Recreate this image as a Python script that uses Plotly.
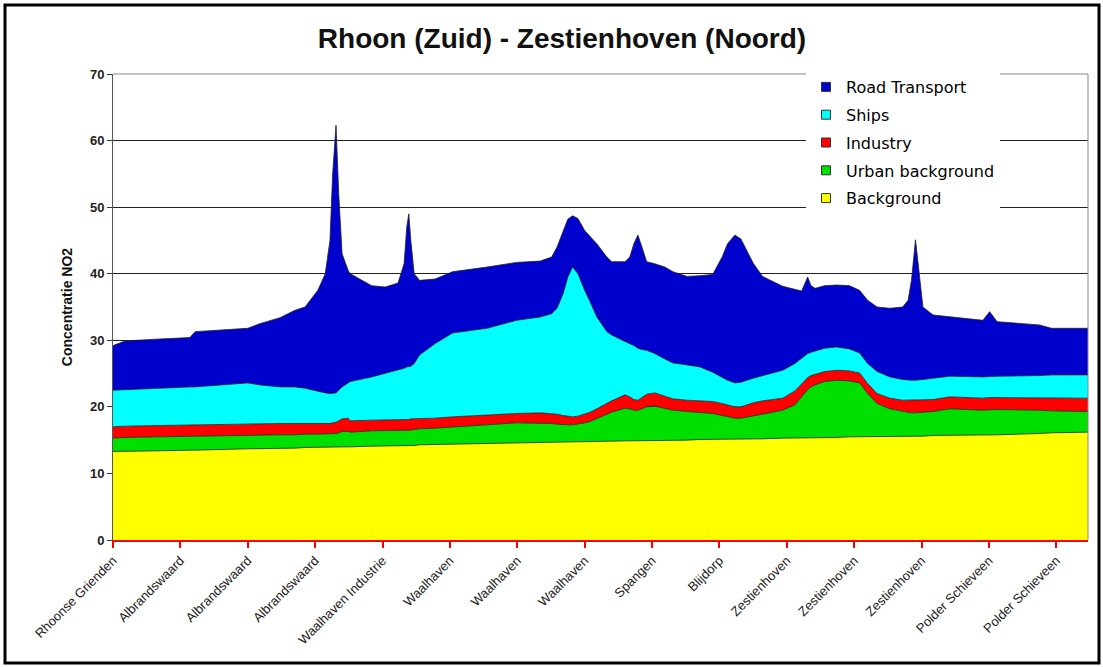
import plotly.graph_objects as go

# Position along the transect (category index; 146 locations, labelled every 10th)
position = [0, 1.8, 7.0, 11.4, 12.2, 20.0, 21.8, 24.8, 27.0, 28.5, 30.4, 31.5, 32.2, 32.6, 33.1, 33.5,
            34.0, 34.9, 35.2, 38.4, 40.4, 42.3, 43.2, 43.6, 43.9, 44.2, 44.7, 45.5, 47.8, 50.4, 55.5,
            59.9, 63.4, 65.1, 65.9, 66.8, 67.5, 68.2, 69.0, 70.0, 70.8, 71.8, 73.3, 74.0, 76.0, 76.7,
            77.3, 77.9, 78.5, 79.2, 80.4, 81.9, 83.1, 85.2, 87.1, 89.0, 90.4, 91.2, 92.3, 93.2, 95.0,
            96.4, 99.4, 101.2, 102.2, 102.8, 103.1, 103.6, 104.2, 105.6, 107.4, 109.3, 110.8, 112.0,
            113.4, 115.3, 117.2, 118.0, 118.5, 119.1, 119.7, 120.2, 121.7, 124.2, 129.1, 130.1, 131.2,
            137.5, 139.3, 144.7]

background = [13.3, 13.3, 13.4, 13.5, 13.5, 13.7, 13.7, 13.8, 13.8, 13.9, 13.9, 13.9, 14.0, 14.0, 14.0, 14.0,
              14.0, 14.0, 14.0, 14.1, 14.1, 14.2, 14.2, 14.2, 14.2, 14.2, 14.2, 14.3, 14.3, 14.4, 14.5,
              14.6, 14.7, 14.7, 14.7, 14.7, 14.8, 14.8, 14.8, 14.8, 14.8, 14.8, 14.9, 14.9, 14.9, 14.9,
              14.9, 14.9, 15.0, 15.0, 15.0, 15.0, 15.0, 15.0, 15.1, 15.1, 15.1, 15.1, 15.1, 15.2, 15.2,
              15.2, 15.3, 15.3, 15.3, 15.3, 15.3, 15.3, 15.4, 15.4, 15.4, 15.5, 15.5, 15.5,
              15.5, 15.6, 15.6, 15.6, 15.6, 15.6, 15.6, 15.6, 15.7, 15.7, 15.8, 15.8, 15.8,
              16.0, 16.1, 16.2]

urban = [2.0, 2.1, 2.1, 2.1, 2.1, 2.1, 2.1, 2.0, 2.0, 2.0, 2.0, 2.0, 2.0, 2.0, 2.0, 2.1,
         2.3, 2.3, 2.2, 2.3, 2.3, 2.3, 2.3, 2.3, 2.3, 2.3, 2.4, 2.4, 2.5, 2.6, 2.8,
         3.0, 2.9, 2.8, 2.7, 2.6, 2.5, 2.5, 2.6, 2.8, 3.0, 3.4, 3.9, 4.3, 4.9, 4.8,
         4.6, 4.6, 4.7, 5.0, 5.1, 4.8, 4.5, 4.3, 4.1, 3.9, 3.6, 3.4, 3.2, 3.1, 3.4,
         3.7, 4.2, 5.0, 6.2, 6.9, 7.3, 7.7, 7.9, 8.4, 8.6, 8.4, 8.1, 6.5,
         5.0, 4.1, 3.7, 3.6, 3.5, 3.5, 3.5, 3.6, 3.6, 4.0, 3.7, 3.8, 3.8,
         3.5, 3.3, 3.1]

industry = [1.7, 1.7, 1.7, 1.7, 1.7, 1.7, 1.7, 1.7, 1.7, 1.6, 1.5, 1.5, 1.5, 1.6, 1.7, 1.8,
            1.9, 2.0, 1.7, 1.6, 1.6, 1.6, 1.6, 1.6, 1.6, 1.7, 1.6, 1.6, 1.5, 1.5, 1.5,
            1.4, 1.5, 1.5, 1.5, 1.4, 1.3, 1.2, 1.2, 1.3, 1.4, 1.5, 1.7, 1.7, 2.0, 1.8,
            1.6, 1.5, 1.7, 1.9, 2.0, 1.8, 1.7, 1.7, 1.7, 1.8, 1.8, 1.8, 1.7, 1.7, 2.0,
            2.0, 1.8, 2.1, 2.0, 1.8, 1.8, 1.7, 1.6, 1.5, 1.5, 1.5, 1.5, 1.5,
            1.5, 1.6, 1.7, 1.8, 1.9, 1.9, 1.9, 1.8, 1.8, 1.8, 1.8, 1.8, 1.8,
            1.9, 1.9, 2.0]

ships = [5.5, 5.5, 5.6, 5.7, 5.7, 6.1, 5.8, 5.5, 5.5, 5.3, 4.9, 4.7, 4.5, 4.4, 4.4, 4.6,
         4.8, 5.3, 5.9, 6.5, 7.0, 7.4, 7.7, 7.9, 7.9, 7.9, 8.3, 9.5, 11.2, 12.6, 13.0,
         14.0, 14.4, 15.0, 15.9, 18.3, 20.9, 22.5, 21.4, 18.6, 16.6, 13.8, 10.8, 9.9, 8.0, 8.0,
         8.1, 7.8, 7.2, 6.6, 5.9, 5.6, 5.4, 5.3, 5.1, 4.4, 4.0, 3.7, 3.6, 3.7, 3.7,
         3.8, 4.2, 4.1, 3.8, 3.8, 3.6, 3.5, 3.5, 3.5, 3.5, 3.3, 3.0, 3.0,
         3.3, 3.2, 3.1, 3.0, 3.0, 3.0, 3.1, 3.1, 3.2, 3.1, 3.2, 3.2, 3.2,
         3.3, 3.5, 3.5]

road = [6.7, 7.3, 7.4, 7.4, 8.3, 8.2, 9.2, 10.4, 11.5, 12.2, 15.2, 17.9, 23.0, 33.0, 40.2, 29.5,
        20.0, 16.9, 16.2, 13.7, 13.0, 13.1, 15.7, 21.0, 23.0, 18.9, 13.5, 11.2, 9.7, 9.2, 9.2,
        8.7, 8.4, 8.5, 9.2, 9.5, 8.7, 7.7, 8.3, 9.0, 9.8, 11.0, 11.2, 11.0, 12.0, 13.0,
        15.3, 17.0, 15.4, 13.3, 13.5, 13.8, 13.7, 13.3, 13.7, 14.7, 18.0, 20.5, 22.2, 21.5, 17.3,
        14.9, 12.6, 11.1, 10.1, 11.0, 11.5, 10.0, 9.4, 9.4, 9.3, 9.5, 9.4, 9.5,
        9.7, 10.3, 10.9, 12.0, 15.0, 21.1, 14.9, 10.9, 9.5, 8.9, 8.5, 9.7, 8.2,
        7.6, 7.0, 7.0]

tick_positions = [0, 10, 20, 30, 40, 50, 60, 70, 80, 90, 100, 110, 120, 130, 140]
tick_labels = ["Rhoonse Grienden", "Albrandswaard", "Albrandswaard", "Albrandswaard",
               "Waalhaven Industrie", "Waalhaven", "Waalhaven", "Waalhaven", "Spangen",
               "Blijdorp", "Zestienhoven", "Zestienhoven", "Zestienhoven",
               "Polder Schieveen", "Polder Schieveen"]

series = [("Background", background, "#FFFF00"),
          ("Urban background", urban, "#00E000"),
          ("Industry", industry, "#FF0000"),
          ("Ships", ships, "#00FFFF"),
          ("Road Transport", road, "#0000CC")]

fig = go.Figure()
for name, vals, col in series:
    fig.add_trace(go.Scatter(
        x=position, y=vals, name=name, mode="lines", stackgroup="one",
        line=dict(width=0.8, color="#222222"), fillcolor=col,
        showlegend=False, hoverinfo="x+y+name",
    ))
# legend entries with square swatches (top of stack listed first)
for name, vals, col in reversed(series):
    fig.add_trace(go.Scatter(
        x=[None], y=[None], name=name, mode="markers", legendgroup=name,
        marker=dict(symbol="square", size=9, color=col, line=dict(color="#333333", width=1)),
        showlegend=True,
    ))

L, R, T, B = 113, 15, 74, 127
W, H = 1103, 667
pw, ph = W - L - R, H - T - B


def px_x(p):
    return (p - L) / pw


def px_y(p):
    return (H - B - p) / ph


fig.update_layout(
    width=W, height=H,
    margin=dict(l=L, r=R, t=T, b=B),
    paper_bgcolor="white", plot_bgcolor="white",
    font=dict(family="Liberation Sans, Arial, sans-serif", color="#222222"),
    title=dict(text="<b>Rhoon (Zuid) - Zestienhoven (Noord)</b>",
               x=562 / W, xref="container", xanchor="center",
               y=1 - 38 / H, yref="container", yanchor="middle",
               font=dict(size=28, color="#111111")),
    showlegend=True,
    legend=dict(
        x=px_x(806), y=px_y(70), xanchor="left", yanchor="top",
        bgcolor="white", borderwidth=0,
        traceorder="grouped", tracegroupgap=4,
        font=dict(family="DejaVu Sans, sans-serif", size=16, color="#000000"),
    ),
    xaxis=dict(
        range=[0, 144.7], tickmode="array", tickvals=tick_positions, ticktext=tick_labels,
        tickangle=-45, tickfont=dict(size=13, color="#222222"),
        showline=True, linecolor="#FF0000", linewidth=2,
        ticks="outside", ticklen=6, tickwidth=2, tickcolor="#FF0000",
        showgrid=False, zeroline=False,
    ),
    yaxis=dict(
        range=[0, 70], tickvals=[0, 10, 20, 30, 40, 50, 60, 70],
        ticktext=["<b>0</b>", "<b>10</b>", "<b>20</b>", "<b>30</b>", "<b>40</b>",
                  "<b>50</b>", "<b>60</b>", "<b>70</b>"],
        tickfont=dict(size=13, color="#222222"),
        showgrid=True, gridcolor="#222222", gridwidth=1,
        showline=True, linecolor="#555555", linewidth=1,
        ticks="outside", ticklen=5, tickcolor="#333333",
        zeroline=False,
        title=dict(text="<b>Concentratie NO2</b>", font=dict(size=14, color="#111111"), standoff=14),
    ),
    shapes=[
        dict(type="rect", xref="paper", yref="paper",
             x0=px_x(5), x1=px_x(1099), y0=px_y(663), y1=px_y(5),
             line=dict(color="black", width=3), fillcolor="rgba(0,0,0,0)", layer="above"),
        dict(type="line", xref="paper", yref="paper",
             x0=1, x1=1, y0=0, y1=1, line=dict(color="#888888", width=1)),
        dict(type="line", xref="paper", yref="paper",
             x0=0, x1=1, y0=1, y1=1, line=dict(color="#888888", width=1)),
    ],
)

fig.write_html("out.html", config={"displayModeBar": False},
               post_script="document.body.style.margin='0';document.body.style.overflow='hidden';")
